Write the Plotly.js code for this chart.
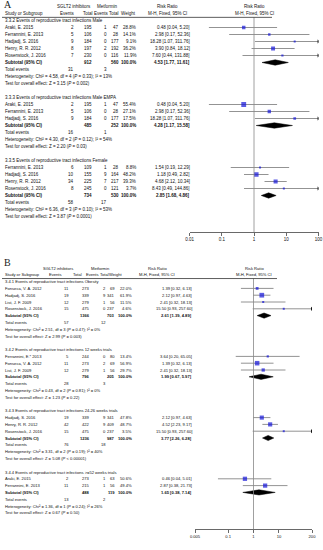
<!DOCTYPE html>
<html><head><meta charset="utf-8">
<script src="https://cdn.plot.ly/plotly-3.0.1.min.js"></script>
<style>html,body{margin:0;padding:0;background:#fff}#plot{width:323px;height:550px}</style>
</head><body><div id="plot"></div>
<script>
// ---------- DATA ----------
// Panel A
const titleA1 = "3.3.2 Events of reproductive tract infections Male";
const studiesA1 = [
  ["Araki, E. 2015", 2, 195, 1, 47, 28.8, 0.48, 0.04, 5.20],
  ["Ferrannini, E. 2013", 5, 106, 0, 28, 14.1, 2.98, 0.17, 52.36],
  ["Hadjadj, S. 2016", 9, 184, 0, 177, 9.1, 18.28, 1.07, 311.76],
  ["Henry, R. R. 2012", 8, 197, 2, 192, 36.2, 3.90, 0.84, 18.12],
  ["Rosenstock, J. 2016", 7, 230, 0, 116, 11.9, 7.60, 0.44, 131.88]
];
const subtotalA1 = [912, 560, 4.53, 1.77, 11.61];
const eventsA1 = [31, 3];
const hetA1 = ["4.58", "4", "0.33", "13%"];
const testA1 = ["3.15", "= 0.002"];

const titleA2 = "3.3.3 Events of reproductive tract infections Male EMPA";
const studiesA2 = [
  ["Araki, E. 2015", 2, 195, 1, 47, 55.4, 0.48, 0.04, 5.20],
  ["Ferrannini, E. 2013", 5, 106, 0, 28, 27.1, 2.98, 0.17, 52.36],
  ["Hadjadj, S. 2016", 9, 184, 0, 177, 17.5, 18.28, 1.07, 311.76]
];
const subtotalA2 = [485, 252, 4.28, 1.17, 15.58];
const eventsA2 = [16, 1];
const hetA2 = ["4.30", "2", "0.12", "54%"];
const testA2 = ["2.20", "= 0.03"];

const titleA3 = "3.3.5 Events of reproductive tract infections Female";
const studiesA3 = [
  ["Ferrannini, E. 2013", 6, 109, 1, 28, 8.8, 1.54, 0.19, 12.29],
  ["Hadjadj, S. 2016", 10, 155, 9, 164, 48.2, 1.18, 0.49, 2.82],
  ["Henry, R. R. 2012", 34, 225, 7, 217, 39.3, 4.68, 2.12, 10.34],
  ["Rosenstock, J. 2016", 8, 245, 0, 121, 3.7, 8.43, 0.49, 144.86]
];
const subtotalA3 = [734, 530, 2.85, 1.68, 4.86];
const eventsA3 = [58, 17];
const hetA3 = ["6.36", "3", "0.10", "53%"];
const testA3 = ["3.87", "= 0.0001"];

const ticksA = [0.01, 0.1, 1, 10, 100];
const tickLabelsA = ["0.01", "0.1", "1", "10", "100"];

// Panel B
const titleB1 = "3.4.1 Events of reproductive tract infections Obesity";
const studiesB1 = [
  ["Fonseca, V. A. 2012", 11, 273, 2, 69, 22.0, 1.39, 0.32, 6.13],
  ["Hadjadj, S. 2016", 19, 339, 9, 341, 61.9, 2.12, 0.97, 4.63],
  ["List, J. F. 2009", 12, 279, 1, 56, 11.5, 2.41, 0.32, 18.13],
  ["Rosenstock, J. 2016", 15, 475, 0, 237, 4.6, 15.50, 0.93, 257.60]
];
const subtotalB1 = [1366, 703, 2.61, 1.39, 4.89];
const eventsB1 = [57, 12];
const hetB1 = ["2.51", "3", "0.47", "0%"];
const testB1 = ["2.99", "= 0.003"];

const titleB2 = "3.4.2 Events of reproductive tract infections 12 weeks trials";
const studiesB2 = [
  ["Ferrannini, E.* 2013", 5, 244, 0, 80, 13.4, 3.64, 0.20, 65.05],
  ["Fonseca, V. A. 2012", 11, 273, 2, 69, 56.9, 1.39, 0.32, 6.13],
  ["List, J. F. 2009", 12, 279, 1, 56, 29.7, 2.41, 0.32, 18.13]
];
const subtotalB2 = [796, 205, 1.99, 0.67, 5.97];
const eventsB2 = [28, 3];
const hetB2 = ["0.43", "2", "0.81", "0%"];
const testB2 = ["1.23", "= 0.22"];

const titleB3 = "3.4.3 Events of reproductive tract infections 24-26 weeks trials";
const studiesB3 = [
  ["Hadjadj, S. 2016", 19, 339, 9, 341, 47.8, 2.12, 0.97, 4.63],
  ["Henry, R. R. 2012", 42, 422, 9, 409, 48.7, 4.52, 2.23, 9.17],
  ["Rosenstock, J. 2016", 15, 475, 0, 237, 3.5, 15.50, 0.93, 257.60]
];
const subtotalB3 = [1236, 987, 3.77, 2.26, 6.28];
const eventsB3 = [76, 18];
const hetB3 = ["3.31", "2", "0.19", "40%"];
const testB3 = ["5.08", "< 0.00001"];

const titleB4 = "3.4.4 Events of reproductive tract infections >=52 weeks trials";
const studiesB4 = [
  ["Araki, E. 2015", 2, 273, 1, 63, 50.6, 0.46, 0.04, 5.01],
  ["Ferrannini, E. 2013", 11, 215, 1, 56, 49.4, 2.87, 0.38, 21.73]
];
const subtotalB4 = [488, 119, 1.65, 0.38, 7.14];
const eventsB4 = [13, 2];
const hetB4 = ["1.36", "1", "0.24", "26%"];
const testB4 = ["0.67", "= 0.50"];

const ticksB = [0.005, 0.1, 1, 10, 200];
const tickLabelsB = ["0.005", "0.1", "1", "10", "200"];

const headerTop = ["SGLT2 inhibitors", "Metformin", "Risk Ratio", "Risk Ratio"];
const headerSub = ["Study or Subgroup", "Events", "Total", "Events", "Total", "Weight", "M-H, Fixed, 95% CI", "M-H, Fixed, 95% CI"];
const favours = ["Favours [SGLT2 inhibitors]", "Favours [Metformin]"];

// ---------- LAYOUT HELPERS ----------
const W = 323, H = 550;
const FONT = "Liberation Sans, Arial, sans-serif";
const TXT = "#111";
const px = v => v / W;

const groupsA = [
  [titleA1, studiesA1, subtotalA1, eventsA1, hetA1, testA1],
  [titleA2, studiesA2, subtotalA2, eventsA2, hetA2, testA2],
  [titleA3, studiesA3, subtotalA3, eventsA3, hetA3, testA3]
];
const groupsB = [
  [titleB1, studiesB1, subtotalB1, eventsB1, hetB1, testB1],
  [titleB2, studiesB2, subtotalB2, eventsB2, hetB2, testB2],
  [titleB3, studiesB3, subtotalB3, eventsB3, hetB3, testB3],
  [titleB4, studiesB4, subtotalB4, eventsB4, hetB4, testB4]
];

const annotations = [];
const shapes = [];
const traces = [];

function panel(groups, cfg) {
  const yr = cfg.yref;
  const xa = cfg.xaxis;
  const c = cfg.cols, h = cfg.head;
  const fs = cfg.fs;
  const axMax = cfg.axMax, axMin = cfg.axMin;
  function txt(x, y, text, anchor) {
    annotations.push({
      x: px(x), xref: "paper", y: y, yref: yr, text: text, showarrow: false,
      xanchor: anchor, yanchor: "middle", font: {family: FONT, size: fs, color: TXT}
    });
  }
  // header
  txt(h.sgltH, 0, headerTop[0], "center");
  txt(h.metH, 0, headerTop[1], "center");
  txt(h.rrH, 0, headerTop[2], "center");
  txt(h.plotH, 0, headerTop[3], "center");
  txt(c.study, 1, headerSub[0], "left");
  txt(h.sEv, 1, headerSub[1], "right");
  txt(h.sTot, 1, headerSub[2], "right");
  txt(h.mEv, 1, headerSub[3], "right");
  txt(h.mTot, 1, headerSub[4], "right");
  txt(h.wt, 1, headerSub[5], "right");
  txt(h.rrH, 1, headerSub[6], "center");
  txt(h.plotH, 1, headerSub[7], "center");
  shapes.push({type: "line", xref: "paper", yref: yr, x0: px(2), x1: px(h.lineEnd), y0: 1.55, y1: 1.55,
    line: {color: "#333", width: 0.8}});

  const ciX = [], ciY = [], sqX = [], sqY = [], sqS = [], arX = [], arY = [], alX = [], alY = [];
  let r = 2;
  groups.forEach(g => {
    const [title, studies, sub, ev, het, test] = g;
    txt(c.study, r, title, "left");
    r++;
    studies.forEach(s => {
      txt(c.study, r, s[0], "left");
      txt(c.sEv, r, String(s[1]), "right");
      txt(c.sTot, r, String(s[2]), "right");
      txt(c.mEv, r, String(s[3]), "right");
      txt(c.mTot, r, String(s[4]), "right");
      txt(c.wt, r, s[5].toFixed(1) + "%", "right");
      txt(c.ci, r, s[6].toFixed(2) + " [" + s[7].toFixed(2) + ", " + s[8].toFixed(2) + "]", "right");
      const lo = Math.max(s[7], axMin), hi = Math.min(s[8], axMax);
      ciX.push(lo, hi, null); ciY.push(r, r, null);
      if (s[8] > axMax) { arX.push(axMax); arY.push(r); }
      if (s[7] < axMin) { alX.push(axMin); alY.push(r); }
      sqX.push(s[6]); sqY.push(r); sqS.push(Math.max(2, cfg.sq * Math.sqrt(s[5] / 100)));
      r++;
    });
    txt(c.study, r, "<b>Subtotal (95% CI)</b>", "left");
    txt(c.sTot, r, "<b>" + sub[0] + "</b>", "right");
    txt(c.mTot, r, "<b>" + sub[1] + "</b>", "right");
    txt(c.wt, r, "<b>100.0%</b>", "right");
    txt(c.ci, r, "<b>" + sub[2].toFixed(2) + " [" + sub[3].toFixed(2) + ", " + sub[4].toFixed(2) + "]</b>", "right");
    const dh = 0.38;
    traces.push({type: "scatter", mode: "lines", xaxis: xa, yaxis: yr,
      x: [sub[3], sub[2], sub[4], sub[2], sub[3]], y: [r, r - dh, r, r + dh, r],
      fill: "toself", fillcolor: "#000", line: {color: "#000", width: 0.5}, hoverinfo: "skip"});
    r++;
    txt(c.study, r, "Total events", "left");
    txt(c.sEv, r, String(ev[0]), "right");
    txt(c.mEv, r, String(ev[1]), "right");
    r++;
    txt(c.study, r, "Heterogeneity: Chi² = " + het[0] + ", df = " + het[1] + " (<i>P</i> = " + het[2] + "); I² = " + het[3], "left");
    r++;
    txt(c.study, r, "Test for overall effect: Z = " + test[0] + " (<i>P</i> " + test[1] + ")", "left");
    r += 2;
  });
  traces.push({type: "scatter", mode: "lines", xaxis: xa, yaxis: yr, x: ciX, y: ciY,
    line: {color: "#777", width: 0.8}, connectgaps: false, hoverinfo: "skip"});
  if (arX.length) traces.push({type: "scatter", mode: "markers", xaxis: xa, yaxis: yr, x: arX, y: arY,
    marker: {symbol: "triangle-right", size: 3.5, color: "#000"}, hoverinfo: "skip"});
  if (alX.length) traces.push({type: "scatter", mode: "markers", xaxis: xa, yaxis: yr, x: alX, y: alY,
    marker: {symbol: "triangle-left", size: 3.5, color: "#000"}, hoverinfo: "skip"});
  traces.push({type: "scatter", mode: "markers", xaxis: xa, yaxis: yr, x: sqX, y: sqY,
    marker: {symbol: "square", size: sqS, color: "#1414d8", line: {width: 0}}, hoverinfo: "skip"});
  traces.push({type: "scatter", mode: "lines", xaxis: xa, yaxis: yr, x: [1, 1], y: [1.55, cfg.yBottom],
    line: {color: "#888", width: 0.8}, hoverinfo: "skip"});
  txt(h.plotH - 5, cfg.favRow, favours[0], "right");
  txt(h.plotH + 4, cfg.favRow, favours[1], "left");
}

// Panel A geometry: row r at pixel aTop + aStep*r ; axis line at aAxis
const aStep = 7, aTop = 6.5, aAxis = 232;
const aRange = [(aAxis - aTop) / aStep, (0 - aTop) / aStep];
// Panel B geometry
const bStep = 6.8, bTop = 268, bAxis = 529, bStart = 256;
const bRange = [(bAxis - bTop) / bStep, (bStart - bTop) / bStep];

const colsA = {study: 3, sEv: 76, sTot: 94, mEv: 109, mTot: 121, wt: 138, ci: 192};
const headA = {sgltH: 74, metH: 108, rrH: 167, plotH: 254, lineEnd: 272,
  sEv: 77, sTot: 95, mEv: 111, mTot: 121, wt: 138};
const colsB = {study: 3, sEv: 71, sTot: 92, mEv: 108, mTot: 117, wt: 134, ci: 194};
const headB = {sgltH: 58, metH: 100, rrH: 157, plotH: 254, lineEnd: 277,
  sEv: 64, sTot: 84, mEv: 101, mTot: 111, wt: 125};

panel(groupsA, {yref: "y", xaxis: "x", cols: colsA, head: headA, fs: 4.5, sq: 6.5,
  axMin: 0.01, axMax: 100, yBottom: aRange[0], favRow: (247.5 - aTop) / aStep});
panel(groupsB, {yref: "y2", xaxis: "x2", cols: colsB, head: headB, fs: 4.1, sq: 6.0,
  axMin: 0.005, axMax: 200, yBottom: bRange[0], favRow: (544.5 - bTop) / bStep});

annotations.push({x: px(2), xref: "paper", y: 1 - 5 / H, yref: "paper", text: "A", showarrow: false,
  xanchor: "left", yanchor: "middle", font: {family: "Liberation Serif, Times New Roman, serif", size: 10, color: "#222"}});
annotations.push({x: px(2), xref: "paper", y: 1 - 262 / H, yref: "paper", text: "B", showarrow: false,
  xanchor: "left", yanchor: "middle", font: {family: "Liberation Serif, Times New Roman, serif", size: 10, color: "#222"}});

function axisCommon(fs) {
  return {type: "log", showgrid: false, zeroline: false, showline: true, linecolor: "#444", linewidth: 0.8,
    ticks: "outside", ticklen: 3, tickwidth: 0.8, tickcolor: "#444", tickfont: {family: FONT, size: fs, color: TXT},
    tickmode: "array", fixedrange: true};
}

const layout = {
  width: W, height: H, margin: {l: 0, r: 0, t: 0, b: 0}, showlegend: false,
  paper_bgcolor: "#fff", plot_bgcolor: "rgba(0,0,0,0)",
  xaxis: Object.assign(axisCommon(4.5), {domain: [px(189.5), px(318.5)], anchor: "y",
    range: [Math.log10(0.01), Math.log10(100)], tickvals: ticksA, ticktext: tickLabelsA}),
  yaxis: {domain: [1 - aAxis / H, 1], range: aRange, visible: false, fixedrange: true},
  xaxis2: Object.assign(axisCommon(4.1), {domain: [px(195), px(312)], anchor: "y2",
    range: [Math.log10(0.005), Math.log10(200)], tickvals: ticksB, ticktext: tickLabelsB}),
  yaxis2: {domain: [1 - bAxis / H, 1 - bStart / H], range: bRange, visible: false, fixedrange: true},
  annotations: annotations, shapes: shapes
};

Plotly.newPlot("plot", traces, layout, {staticPlot: true, displayModeBar: false});
</script>
</body></html>
